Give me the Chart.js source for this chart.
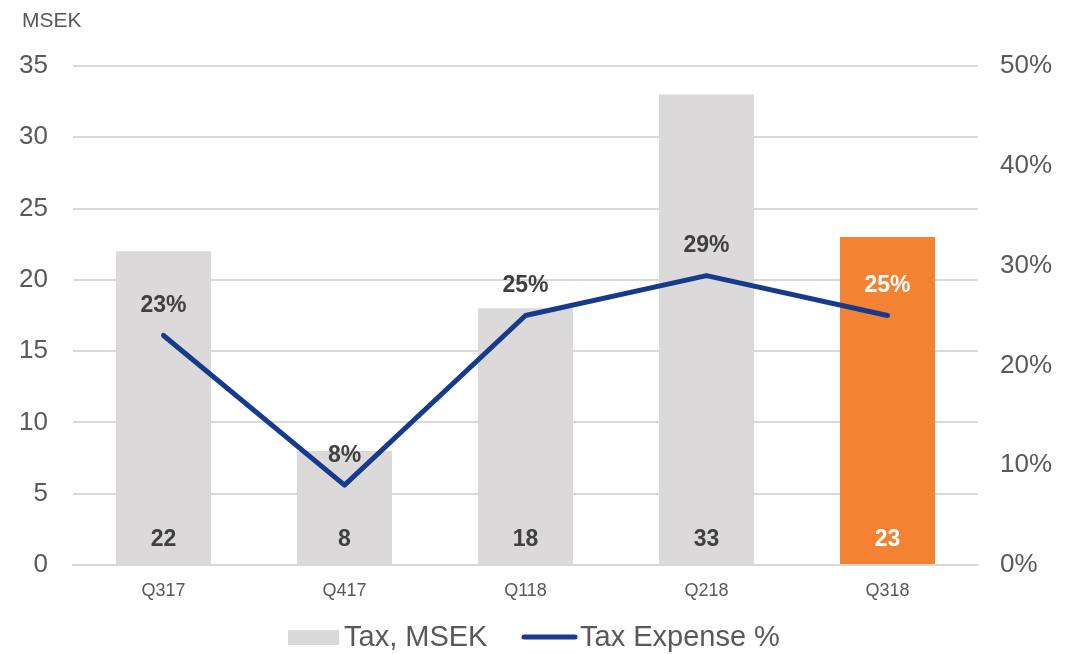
<!DOCTYPE html>
<html>
<head>
<meta charset="utf-8">
<script src="https://cdn.jsdelivr.net/npm/chart.js"></script>
<style>
  html, body { margin: 0; padding: 0; background: #fff; }
  #wrap { position: relative; width: 1074px; height: 654px; }
</style>
</head>
<body>
<div id="wrap"><canvas id="taxChart"></canvas></div>
<script>
const quarters = ['Q317', 'Q417', 'Q118', 'Q218', 'Q318'];
const taxMsek = [22, 8, 18, 33, 23];
const taxExpensePct = [0.23, 0.08, 0.25, 0.29, 0.25];
const barColors = ['#dbd9da', '#dbd9da', '#dbd9da', '#dbd9da', '#f38233'];
const leftTicks = [0, 5, 10, 15, 20, 25, 30, 35];

const FONT = '"Liberation Sans", Arial, sans-serif';
const GREY_TEXT = '#595959';
const LINE_COLOR = '#163b8c';

// value labels: bar values near the base, percentages above the line points
const labelPlugin = {
  id: 'valueLabels',
  afterDatasetsDraw(chart) {
    const ctx = chart.ctx;
    const yL = chart.scales.y;
    const yR = chart.scales.y2;
    const barMeta = chart.getDatasetMeta(1);
    const lineMeta = chart.getDatasetMeta(0);
    ctx.save();
    ctx.font = 'bold 23px ' + FONT;
    ctx.textAlign = 'center';
    ctx.textBaseline = 'middle';
    barMeta.data.forEach((bar, i) => {
      ctx.fillStyle = i === 4 ? '#ffffff' : '#404040';
      ctx.fillText(String(taxMsek[i]), bar.x, yL.getPixelForValue(0) - 25);
    });
    lineMeta.data.forEach((pt, i) => {
      ctx.fillStyle = i === 4 ? '#ffffff' : '#404040';
      ctx.fillText(Math.round(taxExpensePct[i] * 100) + '%', pt.x, yR.getPixelForValue(taxExpensePct[i]) - 30);
    });
    ctx.restore();
  }
};

// unit caption and legend
const extrasPlugin = {
  id: 'extras',
  afterDraw(chart) {
    const ctx = chart.ctx;
    ctx.save();
    ctx.fillStyle = GREY_TEXT;
    ctx.font = '21px ' + FONT;
    ctx.textAlign = 'left';
    ctx.textBaseline = 'middle';
    ctx.fillText('MSEK', 22, 21);

    ctx.font = '29px ' + FONT;
    ctx.fillStyle = '#dbd9da';
    ctx.fillRect(288, 630, 51, 15);
    ctx.fillStyle = GREY_TEXT;
    ctx.fillText('Tax, MSEK', 344, 638);

    ctx.strokeStyle = LINE_COLOR;
    ctx.lineWidth = 5;
    ctx.lineCap = 'round';
    ctx.beginPath();
    ctx.moveTo(524, 637);
    ctx.lineTo(575, 637);
    ctx.stroke();
    ctx.fillText('Tax Expense %', 580, 638);
    ctx.restore();
  }
};

new Chart(document.getElementById('taxChart'), {
  data: {
    labels: quarters,
    datasets: [
      {
        type: 'line',
        label: 'Tax Expense %',
        data: taxExpensePct,
        yAxisID: 'y2',
        borderColor: LINE_COLOR,
        borderWidth: 5,
        borderCapStyle: 'round',
        borderJoinStyle: 'round',
        pointRadius: 0,
        tension: 0,
        order: 0
      },
      {
        type: 'bar',
        label: 'Tax, MSEK',
        data: taxMsek,
        yAxisID: 'y',
        backgroundColor: barColors,
        categoryPercentage: 0.525,
        barPercentage: 1,
        order: 1
      }
    ]
  },
  options: {
    responsive: true,
    maintainAspectRatio: false,
    animation: false,
    layout: { padding: { left: 0, right: 0, top: 66, bottom: 54 } },
    plugins: { legend: { display: false }, tooltip: { enabled: false } },
    scales: {
      x: {
        grid: { display: false },
        border: { color: '#d9d9d9', width: 2 },
        ticks: { color: GREY_TEXT, font: { family: FONT, size: 18 }, padding: 7 },
        afterFit(s) { s.height = 35; }
      },
      y: {
        position: 'left',
        min: 0,
        max: 35,
        afterBuildTicks(s) { s.ticks = leftTicks.map(v => ({ value: v })); },
        grid: { color: '#d9d9d9', lineWidth: 2, drawTicks: false },
        border: { display: false },
        ticks: { color: GREY_TEXT, font: { family: FONT, size: 26 }, padding: 25 },
        afterFit(s) { s.width = 73; }
      },
      y2: {
        position: 'right',
        min: 0,
        max: 0.5,
        grid: { display: false, drawTicks: false },
        border: { display: false },
        ticks: {
          stepSize: 0.1,
          color: GREY_TEXT,
          font: { family: FONT, size: 26 },
          padding: 22,
          callback: v => Math.round(v * 100) + '%'
        },
        afterFit(s) { s.width = 96; }
      }
    }
  },
  plugins: [labelPlugin, extrasPlugin]
});
</script>
</body>
</html>
